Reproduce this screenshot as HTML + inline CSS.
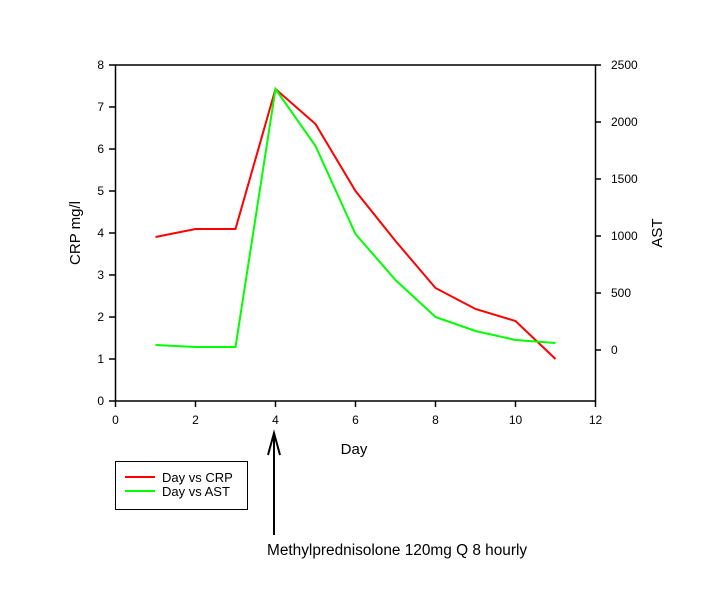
<!DOCTYPE html>
<html><head><style>body{margin:0;background:#fff}</style></head><body>
<svg width="712" height="603" xmlns="http://www.w3.org/2000/svg" font-family="Liberation Sans, Arial, sans-serif">
<rect width="712" height="603" fill="#fff"/>
<g stroke="#000" stroke-width="1.5" fill="none">
<rect x="115.5" y="65" width="480" height="336"/>
<path d="M109 401H115.5M109 359H115.5M109 317H115.5M109 275H115.5M109 233H115.5M109 191H115.5M109 149H115.5M109 107H115.5M109 65H115.5"/>
<path d="M115.5 401V407M195.5 401V407M275.5 401V407M355.5 401V407M435.5 401V407M515.5 401V407M595.5 401V407"/>
<path d="M595.5 350H601M595.5 293H601M595.5 236H601M595.5 179H601M595.5 122H601M595.5 65H601"/>
</g>
<g font-size="12" fill="#000" text-anchor="end">
<text x="104" y="405">0</text><text x="104" y="363">1</text><text x="104" y="321">2</text><text x="104" y="279">3</text><text x="104" y="237">4</text><text x="104" y="195">5</text><text x="104" y="153">6</text><text x="104" y="111">7</text><text x="104" y="69">8</text>
</g>
<g font-size="12" fill="#000" text-anchor="middle">
<text x="115.5" y="424">0</text><text x="195.5" y="424">2</text><text x="275.5" y="424">4</text><text x="355.5" y="424">6</text><text x="435.5" y="424">8</text><text x="515.5" y="424">10</text><text x="595.5" y="424">12</text>
</g>
<g font-size="12" fill="#000">
<text x="611" y="354">0</text><text x="611" y="297">500</text><text x="611" y="240">1000</text><text x="611" y="183">1500</text><text x="611" y="126">2000</text><text x="611" y="69">2500</text>
</g>
<text x="354" y="454" font-size="15" text-anchor="middle">Day</text>
<text transform="translate(80,233) rotate(-90)" font-size="15" text-anchor="middle">CRP mg/l</text>
<text transform="translate(662,233) rotate(-90)" font-size="15" text-anchor="middle">AST</text>
<polyline fill="none" stroke="#f00" stroke-width="2" points="155.5,237 195.5,229 235.5,229 275.5,89 315.5,124 355.5,191 395.5,241 435.5,288 475.5,309 515.5,321 555.5,359"/>
<polyline fill="none" stroke="#0f0" stroke-width="2" points="155.5,345 195.5,347 235.5,347 275.5,89 315.5,146 355.5,234 395.5,280 435.5,317 475.5,331 515.5,340 555.5,343"/>
<rect x="115.5" y="461.5" width="132" height="48" fill="none" stroke="#000" stroke-width="1"/>
<line x1="125" y1="477" x2="155" y2="477" stroke="#f00" stroke-width="2"/>
<line x1="125" y1="491" x2="155" y2="491" stroke="#0f0" stroke-width="2"/>
<text x="162" y="482" font-size="13">Day vs CRP</text>
<text x="162" y="496" font-size="13">Day vs AST</text>
<g stroke="#000" stroke-width="2" fill="none">
<line x1="274" y1="433" x2="274" y2="535"/>
<polyline points="268,455 274,433 280,455"/>
</g>
<text x="267" y="555" font-size="15.4">Methylprednisolone 120mg Q 8 hourly</text>
</svg>
</body></html>
